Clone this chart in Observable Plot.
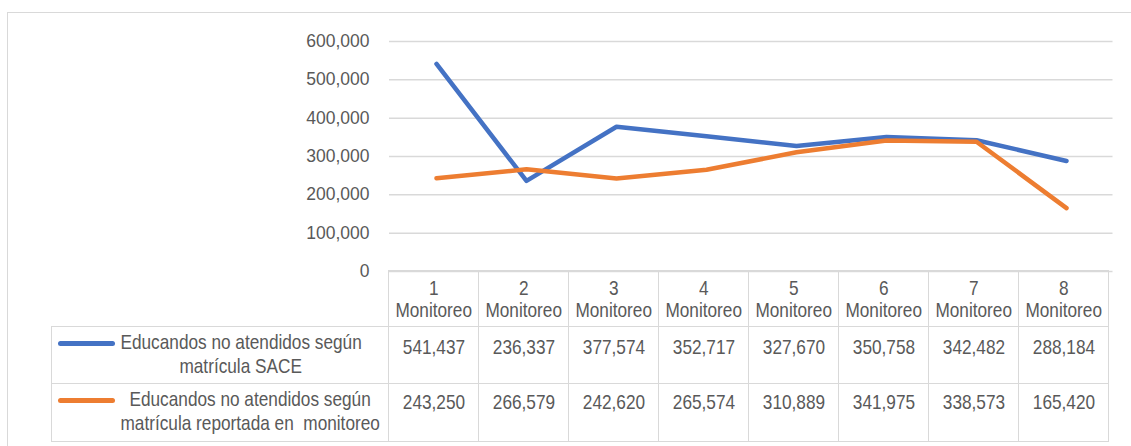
<!DOCTYPE html>
<html>
<head>
<meta charset="utf-8">
<script src="https://cdn.jsdelivr.net/npm/d3@7"></script>
<script src="https://cdn.jsdelivr.net/npm/@observablehq/plot@0.6"></script>
<style>
  html, body { margin: 0; padding: 0; background: #fff; }
  #wrap { position: relative; width: 1131px; height: 446px; overflow: hidden; font-family: 'Liberation Sans', Arial, sans-serif; color: #595959; }
  #frame { position: absolute; left: 7px; top: 12px; width: 1300px; height: 440px; border-left: 1.5px solid #d9d9d9; border-top: 1.5px solid #d9d9d9; }
  #chart { position: absolute; left: 0; top: 0; }
  #tbl { position: absolute; border-collapse: collapse; table-layout: fixed; }
  #tbl td { border: 1.5px solid #d9d9d9; padding: 0; text-align: center; vertical-align: top; white-space: nowrap; position: relative; }
  #tbl td.blank { border: none; }
  .t { display: inline-block; white-space: pre; margin: 0 -60px; }
  .sw { position: absolute; left: 6px; top: 14px; width: 57px; height: 5px; border-radius: 3px; }
</style>
</head>
<body>
<div id="wrap"><div id="frame"></div><div id="chart"></div></div>
<script>
// ---- data ----
const monitoreos = ["1", "2", "3", "4", "5", "6", "7", "8"];
const headerWord = "Monitoreo";
const seriesNames = [
  "Educandos no atendidos según matrícula SACE",
  "Educandos no atendidos según matrícula reportada en  monitoreo"
];
const legendLines = [
  ["Educandos no atendidos según", "matrícula SACE"],
  ["Educandos no atendidos según", "matrícula reportada en  monitoreo"]
];
const sace = [541437, 236337, 377574, 352717, 327670, 350758, 342482, 288184];
const reportada = [243250, 266579, 242620, 265574, 310889, 341975, 338573, 165420];
const yTicks = [0, 100000, 200000, 300000, 400000, 500000, 600000];
const colors = ["#4472c4", "#ed7d31"];

const seriesValues = [sace, reportada];
const data = [];
seriesValues.forEach((vals, s) => vals.forEach((v, i) => data.push({m: monitoreos[i], v, s: seriesNames[s]})));

// ---- font detection ----
function hasFont(f) {
  const c = document.createElement("canvas").getContext("2d");
  const s = "Monitoreo 541,437 Educandos";
  c.font = "40px monospace"; const a = c.measureText(s).width;
  c.font = `40px '${f}', monospace`; const b = c.measureText(s).width;
  return a !== b;
}
const narrow = hasFont("Liberation Sans Narrow");
const fam = narrow ? "'Liberation Sans Narrow', 'Liberation Sans', Arial, sans-serif" : "'Liberation Sans', Arial, sans-serif";
const k = narrow ? 1 : 0.82;
const fs = 21;
const axisFs = narrow ? 21 : 17.5;

const fmt = d3.format(",");

const plot = Plot.plot({
  width: 1131,
  height: 290,
  marginLeft: 389,
  marginRight: 18.5,
  marginTop: 41,
  marginBottom: 19,
  style: {fontFamily: fam, fontSize: fs + "px", overflow: "visible", background: "transparent"},
  x: {type: "band", domain: monitoreos, padding: 0, axis: null},
  y: {domain: [0, 600000], axis: null},
  color: {domain: seriesNames, range: colors},
  marks: [
    Plot.gridY(yTicks, {stroke: "#d9d9d9", strokeOpacity: 1, strokeWidth: 1.5}),
    Plot.axisY(yTicks, {tickSize: 0, tickPadding: 20, tickFormat: fmt, fill: "#595959", fontSize: axisFs, label: null}),
    Plot.line(data, {x: "m", y: "v", z: "s", stroke: "s", strokeWidth: 4.5, strokeLinecap: "round", strokeLinejoin: "round"})
  ]
});
document.getElementById("chart").appendChild(plot);

// ---- data table aligned with the x scale ----
const xs = plot.scale("x");
const bw = xs.bandwidth;
const x0 = xs.range[0];
const tableLeft = 52;
const wrap = document.getElementById("wrap");
const tbl = document.createElement("table");
tbl.id = "tbl";
tbl.style.left = (tableLeft - 0.75) + "px";
tbl.style.top = (271 - 0.75) + "px";
tbl.style.fontFamily = fam;
tbl.style.fontSize = fs + "px";
const cg = document.createElement("colgroup");
[x0 - tableLeft, ...monitoreos.map(() => bw)].forEach(w => {
  const c = document.createElement("col"); c.style.width = w + "px"; cg.appendChild(c);
});
tbl.appendChild(cg);
const span = (txt) => `<span class="t" style="transform:scaleX(${k})">${txt}</span>`;

// header
const hr = tbl.insertRow();
hr.style.height = "56px";
const hb = hr.insertCell(); hb.className = "blank";
monitoreos.forEach(m => {
  const c = hr.insertCell();
  c.style.lineHeight = "22px";
  c.style.verticalAlign = "middle";
  c.innerHTML = span(m) + "<br>" + span(headerWord);
});
// series rows
const rowH = [57, 58];
const valPad = [8, 6];
const legPad = [[66, 25], [66, 7]];
seriesValues.forEach((vals, s) => {
  const r = tbl.insertRow();
  r.style.height = rowH[s] + "px";
  const lc = r.insertCell();
  lc.style.lineHeight = "24px";
  lc.innerHTML = `<div class="sw" style="background:${colors[s]}"></div>` +
    `<div style="padding:3px ${legPad[s][1]}px 0 ${legPad[s][0]}px;text-align:center">` +
    legendLines[s].map(span).join("<br>") + `</div>`;
  vals.forEach(v => {
    const c = r.insertCell();
    c.style.lineHeight = "24px";
    c.style.paddingTop = valPad[s] + "px";
    c.innerHTML = span(fmt(v));
  });
});
wrap.appendChild(tbl);
</script>
</body>
</html>
